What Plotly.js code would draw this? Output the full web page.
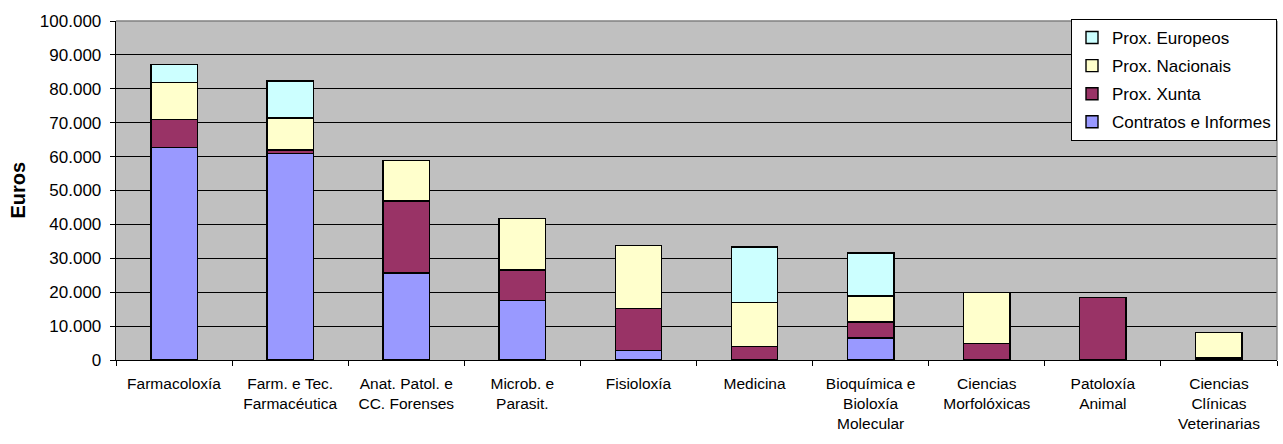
<!DOCTYPE html>
<html>
<head>
<meta charset="utf-8">
<script src="https://cdn.plot.ly/plotly-3.0.1.min.js"></script>
<style>html,body{margin:0;padding:0;background:#fff;} #chart{width:1283px;height:444px;}</style>
</head>
<body>
<div id="chart"></div>
<script>
var categories = ["Farmacoloxía", "Farm. e Tec.<br>Farmacéutica", "Anat. Patol. e<br>CC. Forenses", "Microb. e<br>Parasit.", "Fisioloxía", "Medicina", "Bioquímica e<br>Bioloxía<br>Molecular", "Ciencias<br>Morfolóxicas", "Patoloxía<br>Animal", "Ciencias<br>Clínicas<br>Veterinarias"];
var contratos = [62600, 61000, 25700, 17600, 2800, 0, 6500, 0, 0, 600];
var xunta     = [8400, 900, 21200, 8900, 12400, 4000, 4700, 4800, 18400, 0];
var nacionais = [10800, 9500, 12000, 15200, 18500, 12900, 7700, 15200, 0, 7600];
var europeos  = [5300, 10900, 0, 0, 0, 16400, 12700, 0, 0, 0];
var seriesNames = ["Contratos e Informes", "Prox. Xunta", "Prox. Nacionais", "Prox. Europeos"];
var seriesColors = ["#9999FF", "#993366", "#FFFFCC", "#CCFFFF"];
var seriesValues = [contratos, xunta, nacionais, europeos];

var traces = seriesValues.map(function(vals, i) {
  return {
    type: "bar",
    name: seriesNames[i],
    x: categories,
    y: vals,
    legendgroup: "g" + i,
    legendrank: 1000 - i,
    marker: {color: seriesColors[i], line: {color: "#000000", width: 1.4}},
    hoverinfo: "y+name"
  };
});

var font = "Liberation Sans, Arial, sans-serif";
var layout = {
  width: 1283, height: 444,
  barmode: "stack",
  bargap: 0.6,
  paper_bgcolor: "#ffffff",
  plot_bgcolor: "#C0C0C0",
  margin: {l: 116, r: 6, t: 21, b: 84},
  separators: ",.",
  font: {family: font, color: "#000000"},
  xaxis: {
    type: "category",
    showline: true, linecolor: "#000000", linewidth: 1.3,
    ticks: "outside", ticklen: 5, tickcolor: "#000000", tickson: "boundaries",
    showgrid: false,
    tickfont: {size: 15.5, family: font},
    tickangle: 0,
    ticklabelstandoff: 9,
    automargin: false
  },
  yaxis: {
    range: [0, 100000], dtick: 10000,
    tickformat: ",d",
    showline: true, linecolor: "#000000", linewidth: 1.3,
    ticks: "outside", ticklen: 5, tickcolor: "#000000",
    gridcolor: "#000000", gridwidth: 1,
    tickfont: {size: 17, family: font},
    ticklabelstandoff: 5,
    zeroline: false,
    automargin: false
  },
  annotations: [
    {text: "<b>Euros</b>", xref: "paper", yref: "paper", x: 0, y: 0.5, xshift: -99,
     xanchor: "center", yanchor: "middle", textangle: -90, showarrow: false,
     font: {size: 20, family: font, color: "#000000"}}
  ],
  legend: {
    x: 1, xanchor: "right", y: 1.006, yanchor: "top",
    bgcolor: "#ffffff", bordercolor: "#000000", borderwidth: 1,
    font: {size: 17, family: font},
    traceorder: "grouped",
    tracegroupgap: 3,
    itemwidth: 30
  },
  shapes: [
    {type: "line", xref: "paper", yref: "paper", x0: 0, x1: 1, y0: 1, y1: 1, line: {color: "#808080", width: 1.3}},
    {type: "line", xref: "paper", yref: "paper", x0: 1, x1: 1, y0: 0, y1: 1, line: {color: "#808080", width: 1.3}}
  ],
  showlegend: true
};

Plotly.newPlot("chart", traces, layout, {displayModeBar: false, staticPlot: true});
</script>
</body>
</html>
